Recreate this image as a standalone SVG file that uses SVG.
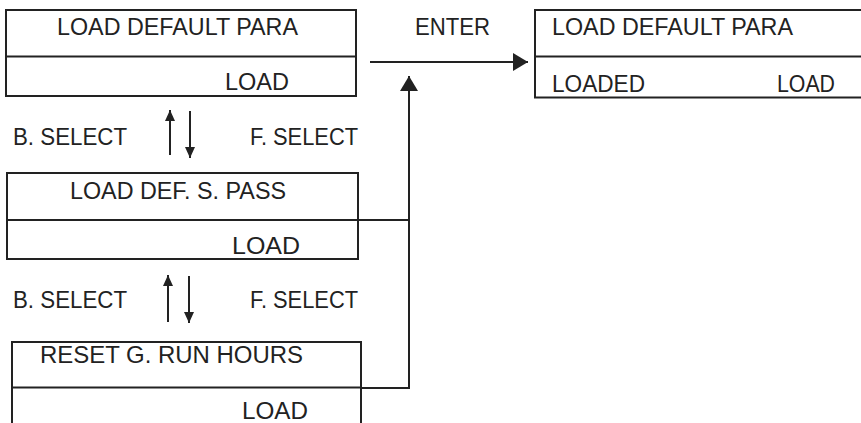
<svg xmlns="http://www.w3.org/2000/svg" width="861" height="423" viewBox="0 0 861 423">
<style>
.box{fill:#fff;stroke:#222;stroke-width:2}
.ln{fill:none;stroke:#222;stroke-width:2}
.t{font-family:"Liberation Sans",Arial,sans-serif;font-size:24.5px;fill:#222}
</style>
<defs>
<marker id="big" markerUnits="userSpaceOnUse" markerWidth="16" markerHeight="18" refX="15" refY="9" orient="auto">
<path d="M0,0 L15,9 L0,18 z" fill="#222"/>
</marker>
<marker id="small" markerUnits="userSpaceOnUse" markerWidth="12" markerHeight="10" refX="11" refY="5" orient="auto">
<path d="M0,0 L11,5 L0,10 z" fill="#222"/>
</marker>
</defs>
<rect width="861" height="423" fill="#fff"/>
<g id="node-load-default-para">
<rect class="box" x="6" y="10" width="350" height="86"/>
<line class="ln" x1="6" y1="56.5" x2="356" y2="56.5"/>
<text class="t" x="57" y="35" textLength="241" lengthAdjust="spacingAndGlyphs">LOAD DEFAULT PARA</text>
<text class="t" x="225" y="90" textLength="64" lengthAdjust="spacingAndGlyphs">LOAD</text>
</g>
<g id="node-load-def-s-pass">
<rect class="box" x="7" y="173" width="351" height="86"/>
<line class="ln" x1="7" y1="220" x2="358" y2="220"/>
<text class="t" x="70" y="199" textLength="216" lengthAdjust="spacingAndGlyphs">LOAD DEF. S. PASS</text>
<text class="t" x="232" y="254" textLength="68" lengthAdjust="spacingAndGlyphs">LOAD</text>
</g>
<g id="node-reset-g-run-hours">
<path class="ln" d="M12,430 V342 H361 V430"/>
<line class="ln" x1="12" y1="387.5" x2="361" y2="387.5"/>
<text class="t" x="40" y="363" textLength="263" lengthAdjust="spacingAndGlyphs">RESET G. RUN HOURS</text>
<text class="t" x="242" y="419" textLength="66" lengthAdjust="spacingAndGlyphs">LOAD</text>
</g>
<g id="node-loaded">
<path class="ln" d="M870,10 H535 V97.5 H870"/>
<line class="ln" x1="535" y1="56.5" x2="870" y2="56.5"/>
<text class="t" x="552" y="35" textLength="241" lengthAdjust="spacingAndGlyphs">LOAD DEFAULT PARA</text>
<text class="t" x="552" y="92" textLength="93" lengthAdjust="spacingAndGlyphs">LOADED</text>
<text class="t" x="777" y="92" textLength="58" lengthAdjust="spacingAndGlyphs">LOAD</text>
</g>
<g id="labels">
<text class="t" x="415" y="35" textLength="75" lengthAdjust="spacingAndGlyphs">ENTER</text>
<text class="t" x="13" y="145" textLength="114" lengthAdjust="spacingAndGlyphs">B. SELECT</text>
<text class="t" x="250" y="145" textLength="108" lengthAdjust="spacingAndGlyphs">F. SELECT</text>
<text class="t" x="13" y="308" textLength="114" lengthAdjust="spacingAndGlyphs">B. SELECT</text>
<text class="t" x="250" y="308" textLength="108" lengthAdjust="spacingAndGlyphs">F. SELECT</text>
</g>
<g id="connectors">
<line class="ln" x1="370" y1="62" x2="528" y2="62" marker-end="url(#big)"/>
<line class="ln" x1="409" y1="389" x2="409" y2="76" marker-end="url(#big)"/>
<line class="ln" x1="358" y1="220" x2="410" y2="220"/>
<line class="ln" x1="361" y1="388" x2="410" y2="388"/>
<line class="ln" x1="170" y1="155" x2="170" y2="110" marker-end="url(#small)"/>
<line class="ln" x1="190" y1="111" x2="190" y2="158" marker-end="url(#small)"/>
<line class="ln" x1="168" y1="322" x2="168" y2="275" marker-end="url(#small)"/>
<line class="ln" x1="189" y1="276" x2="189" y2="323" marker-end="url(#small)"/>
</g>
</svg>
